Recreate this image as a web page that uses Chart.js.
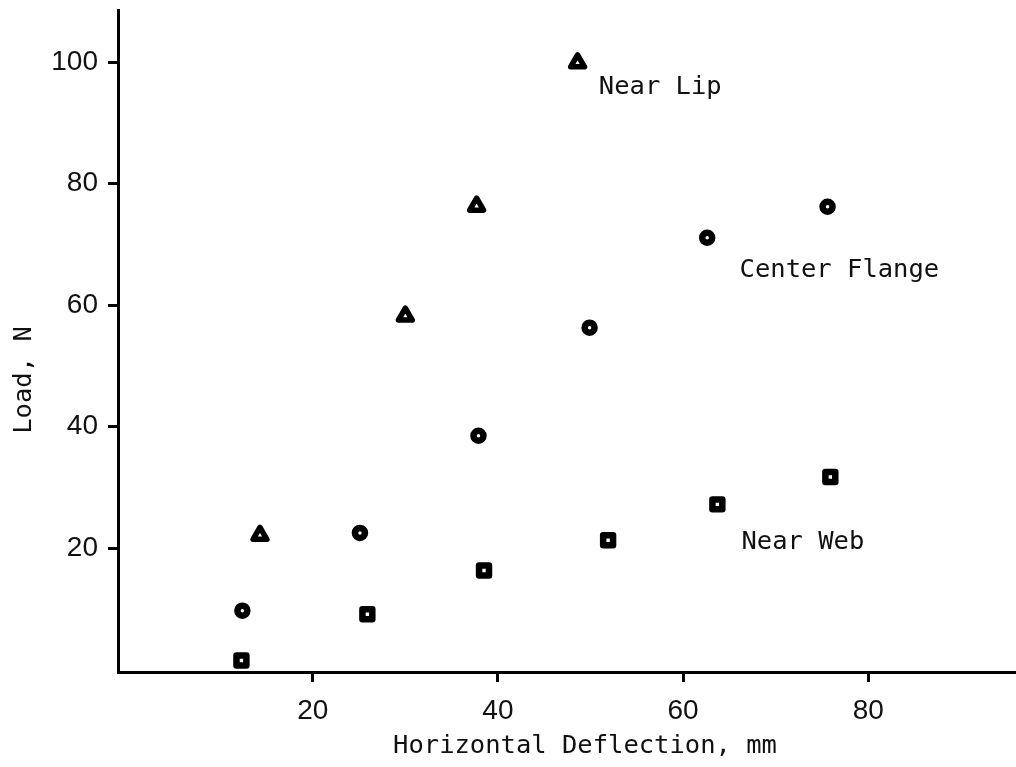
<!DOCTYPE html>
<html>
<head>
<meta charset="utf-8">
<script src="https://cdn.jsdelivr.net/npm/chart.js@4.4.1/dist/chart.umd.min.js"></script>
<style>
  html, body { margin: 0; padding: 0; background: #ffffff; }
  #wrap { position: relative; width: 1016px; height: 767px; }
</style>
</head>
<body>
<div id="wrap"><canvas id="c" width="1016" height="767"></canvas></div>
<script>
// ---- data ----
const seriesNames = ["Near Lip", "Center Flange", "Near Web"];

const nearLipX = [14.3, 30.0, 37.7, 48.6];
const nearLipY = [22.1, 58.2, 76.3, 99.9];

const centerFlangeX = [12.4, 25.1, 37.9, 49.9, 62.6, 75.6];
const centerFlangeY = [9.7, 22.5, 38.5, 56.3, 71.1, 76.2];

const nearWebX = [12.3, 25.9, 38.5, 51.9, 63.7, 75.9];
const nearWebY = [1.5, 9.1, 16.3, 21.3, 27.2, 31.7];

const xTickValues = [20, 40, 60, 80];
const yTickValues = [20, 40, 60, 80, 100];

const xTitle = "Horizontal Deflection, mm";
const yTitle = "Load, N";

// label anchors in data units (left end / baseline of the text)
const labelX = [50.9, 66.1, 66.3];
const labelY = [94.7, 64.6, 19.8];

// ---- build ----
const toPts = (xs, ys) => xs.map((x, i) => ({ x: x, y: ys[i] }));
const monoFont = "'DejaVu Sans Mono', 'Liberation Mono', monospace";
const tickFont = "'Liberation Sans Narrow', 'Liberation Sans', sans-serif";

const roundJoin = {
  id: 'roundJoin',
  beforeDatasetsDraw(chart) { chart.ctx.lineJoin = 'round'; chart.ctx.lineCap = 'round'; }
};

const textPlugin = {
  id: 'texts',
  afterDraw(chart) {
    const ctx = chart.ctx;
    const xs = chart.scales.x, ys = chart.scales.y;
    ctx.save();
    ctx.fillStyle = '#111';
    ctx.font = "25.5px " + monoFont;
    ctx.textAlign = 'left';
    ctx.textBaseline = 'alphabetic';
    seriesNames.forEach((name, i) => {
      ctx.fillText(name, xs.getPixelForValue(labelX[i]), ys.getPixelForValue(labelY[i]));
    });
    // x axis title
    ctx.textAlign = 'center';
    ctx.textBaseline = 'middle';
    ctx.fillText(xTitle, 585, 746);
    // y axis title
    ctx.translate(24, 380);
    ctx.rotate(-Math.PI / 2);
    ctx.fillText(yTitle, 0, 0);
    ctx.restore();
  }
};

const markerCommon = {
  showLine: false,
  borderColor: '#000',
  backgroundColor: '#fff',
  pointBackgroundColor: '#fff',
  pointBorderColor: '#000',
};

new Chart(document.getElementById('c'), {
  type: 'scatter',
  data: {
    datasets: [
      Object.assign({}, markerCommon, {
        label: seriesNames[0], data: toPts(nearLipX, nearLipY),
        pointStyle: 'triangle', pointRadius: 8, pointBorderWidth: 5.5
      }),
      Object.assign({}, markerCommon, {
        label: seriesNames[1], data: toPts(centerFlangeX, centerFlangeY),
        pointStyle: 'circle', pointRadius: 5, pointBorderWidth: 6.5
      }),
      Object.assign({}, markerCommon, {
        label: seriesNames[2], data: toPts(nearWebX, nearWebY),
        pointStyle: 'rect', pointRadius: 7, pointBorderWidth: 6.5
      })
    ]
  },
  options: {
    responsive: false,
    animation: false,
    devicePixelRatio: 1,
    layout: { autoPadding: false, padding: { top: 10, right: 0, left: 0, bottom: 0 } },
    plugins: { legend: { display: false }, tooltip: { enabled: false } },
    scales: {
      x: {
        type: 'linear', min: -1.03, max: 95.95,
        afterBuildTicks: s => { s.ticks = xTickValues.map(v => ({ value: v })); },
        afterFit: s => { s.height = 95; s.paddingLeft = 0; s.paddingRight = 0; },
        border: { display: true, color: '#000', width: 3 },
        grid: { display: true, drawOnChartArea: false, drawTicks: true, tickLength: 10, lineWidth: 3, color: '#000' },
        ticks: { color: '#111', padding: 12, font: { family: tickFont, size: 28 }, maxRotation: 0 }
      },
      y: {
        type: 'linear', min: -0.4, max: 108.6,
        afterBuildTicks: s => { s.ticks = yTickValues.map(v => ({ value: v })); },
        afterFit: s => { s.width = 118; s.paddingTop = 0; s.paddingBottom = 0; },
        border: { display: true, color: '#000', width: 3 },
        grid: { display: true, drawOnChartArea: false, drawTicks: true, tickLength: 10, lineWidth: 3, color: '#000' },
        ticks: { color: '#111', padding: 10, font: { family: tickFont, size: 28 } }
      }
    }
  },
  plugins: [roundJoin, textPlugin]
});
</script>
</body>
</html>
